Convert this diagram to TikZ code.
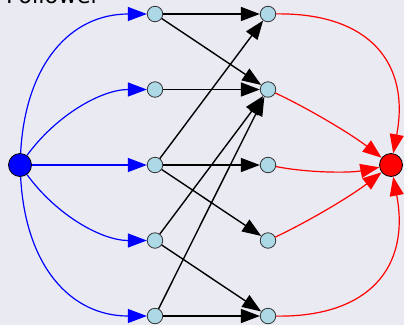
\documentclass[tikz,border=0pt]{standalone}
\usepackage{fontspec}
\setmainfont{DejaVu Sans}
\usetikzlibrary{arrows.meta}
\definecolor{bg}{RGB}{234,234,242}
\definecolor{nodefill}{RGB}{173,216,230}
\begin{document}
\begin{tikzpicture}[x=1pt,y=-1pt,
  inner/.style={circle,draw=black!80,line width=0.8pt,fill=nodefill,minimum size=15.5pt,inner sep=0pt},
  big/.style={circle,draw=black,line width=0.8pt,minimum size=23pt,inner sep=0pt},
  arr/.style={-{Triangle[length=19pt,width=14pt]},line width=1.2pt},
  blueedge/.style={arr,blue},
  rededge/.style={arr,red},
  blackedge/.style={arr,black,line width=1.4pt}]
\useasboundingbox (0,0) rectangle (404,325);
\fill[bg] (0,0) rectangle (404,325);
\clip (0,0) rectangle (404,325);
\node[anchor=base west,inner sep=0pt,font=\fontsize{22.5}{27}\selectfont] (title) at (6,3) {Follower};
% nodes
\node[big,fill=blue] (s) at (20,165) {};
\node[big,fill=red] (t) at (391,165) {};
\node[inner] (m1) at (155,14) {};
\node[inner] (m2) at (155,89.5) {};
\node[inner] (m3) at (155,165) {};
\node[inner] (m4) at (155,240.5) {};
\node[inner] (m5) at (155,316) {};
\node[inner] (r1) at (268,14) {};
\node[inner] (r2) at (268,89.5) {};
\node[inner] (r3) at (268,165) {};
\node[inner] (r4) at (268,240.5) {};
\node[inner] (r5) at (268,316) {};
% blue edges
\draw[blueedge] (s) .. controls (25.3,64.3) and (70.3,14) .. (m1);
\draw[blueedge] (s) .. controls (56.7,114.7) and (101.7,89.5) .. (m2);
\draw[blueedge] (s) -- (m3);
\draw[blueedge] (s) .. controls (56.7,215.3) and (101.7,240.5) .. (m4);
\draw[blueedge] (s) .. controls (25.3,265.7) and (70.3,316) .. (m5);
% black edges
\draw[blackedge] (m1) -- (r1);
\draw[blackedge] (m1) -- (r2);
\draw[blackedge] (m2) -- (r2);
\draw[blackedge] (m3) -- (r1);
\draw[blackedge] (m3) -- (r3);
\draw[blackedge] (m3) -- (r4);
\draw[blackedge] (m4) -- (r2);
\draw[blackedge] (m4) -- (r5);
\draw[blackedge] (m5) -- (r2);
\draw[blackedge] (m5) -- (r5);
% red edges
\draw[rededge] (r1) .. controls (369.3,12.7) and (410.3,63) .. (t);
\draw[rededge] (r2) .. controls (311.8,110.2) and (352.8,135.3) .. (t);
\draw[rededge] (r3) .. controls (309,173) and (350,173) .. (t);
\draw[rededge] (r4) .. controls (311.8,219.8) and (352.8,194.7) .. (t);
\draw[rededge] (r5) .. controls (369.3,317.3) and (410.3,267) .. (t);
\end{tikzpicture}
\end{document}
